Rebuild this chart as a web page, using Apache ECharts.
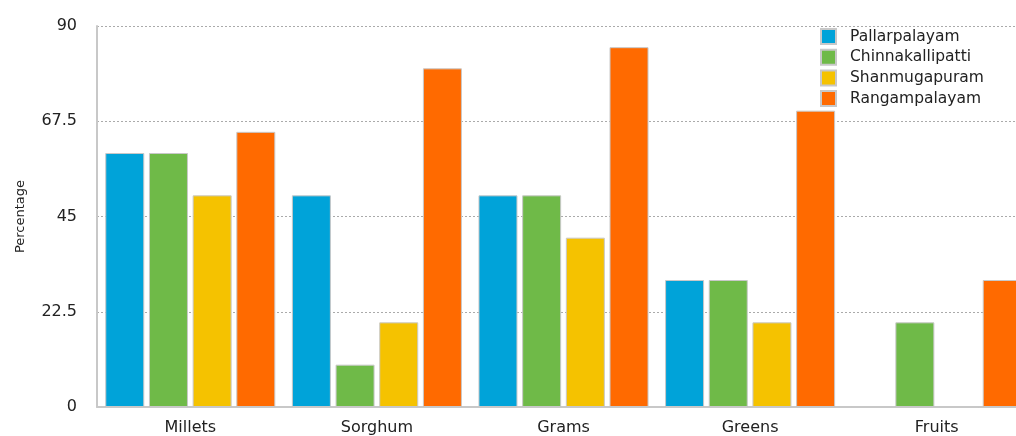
<!DOCTYPE html>
<html>
<head>
<meta charset="utf-8">
<script src="https://cdn.jsdelivr.net/npm/echarts@6/dist/echarts.min.js"></script>
<style>
  html, body { margin: 0; padding: 0; background: #fff; }
  #main { width: 1016px; height: 436px; }
</style>
</head>
<body>
<div id="main"></div>
<script>
var categories = ['Millets', 'Sorghum', 'Grams', 'Greens', 'Fruits'];
var seriesNames = ['Pallarpalayam', 'Chinnakallipatti', 'Shanmugapuram', 'Rangampalayam'];
var pallarpalayam = [60, 50, 50, 30, 0];
var chinnakallipatti = [60, 10, 50, 30, 20];
var shanmugapuram = [50, 20, 40, 20, 0];
var rangampalayam = [65, 80, 85, 70, 30];
var colors = ['#00a3d9', '#6fba48', '#f5c200', '#ff6a00'];

var values = [pallarpalayam, chinnakallipatti, shanmugapuram, rangampalayam];

var chartDom = document.getElementById('main');
var myChart = echarts.init(chartDom);
var option;
option = {
  animation: false,
  textStyle: { fontFamily: 'DejaVu Sans, sans-serif' },
  // plot runs past the right edge, as in the original
  grid: { left: 97, width: 933, top: 26, bottom: 29, outerBoundsMode: 'none' },
  legend: {
    orient: 'vertical',
    left: 815,
    top: 23,
    itemWidth: 15,
    itemHeight: 15,
    itemGap: 3.7,
    icon: 'rect',
    data: seriesNames,
    textStyle: { fontSize: 15.5, color: '#222', padding: [0, 0, 0, 9] }
  },
  xAxis: {
    type: 'category',
    data: categories,
    axisLine: { lineStyle: { color: '#c8c8c8', width: 2 } },
    axisTick: { show: false },
    axisLabel: { fontSize: 16, color: '#222', margin: 13 }
  },
  yAxis: {
    type: 'value',
    min: 0,
    max: 90,
    interval: 22.5,
    name: 'Percentage',
    nameLocation: 'middle',
    nameGap: 70,
    nameTextStyle: { fontSize: 13, color: '#222' },
    axisLine: { show: true, lineStyle: { color: '#c8c8c8', width: 2 } },
    axisTick: { show: false },
    axisLabel: { fontSize: 16, color: '#222', margin: 20 },
    splitLine: { lineStyle: { color: '#aaa', type: [2, 2], width: 1 } }
  },
  series: seriesNames.map(function (name, i) {
    return {
      name: name,
      type: 'bar',
      data: values[i],
      barWidth: 39,
      barGap: '12%',
      itemStyle: { color: colors[i], borderColor: '#c8c8c8', borderWidth: 1 }
    };
  })
};
option && myChart.setOption(option);
</script>
</body>
</html>
